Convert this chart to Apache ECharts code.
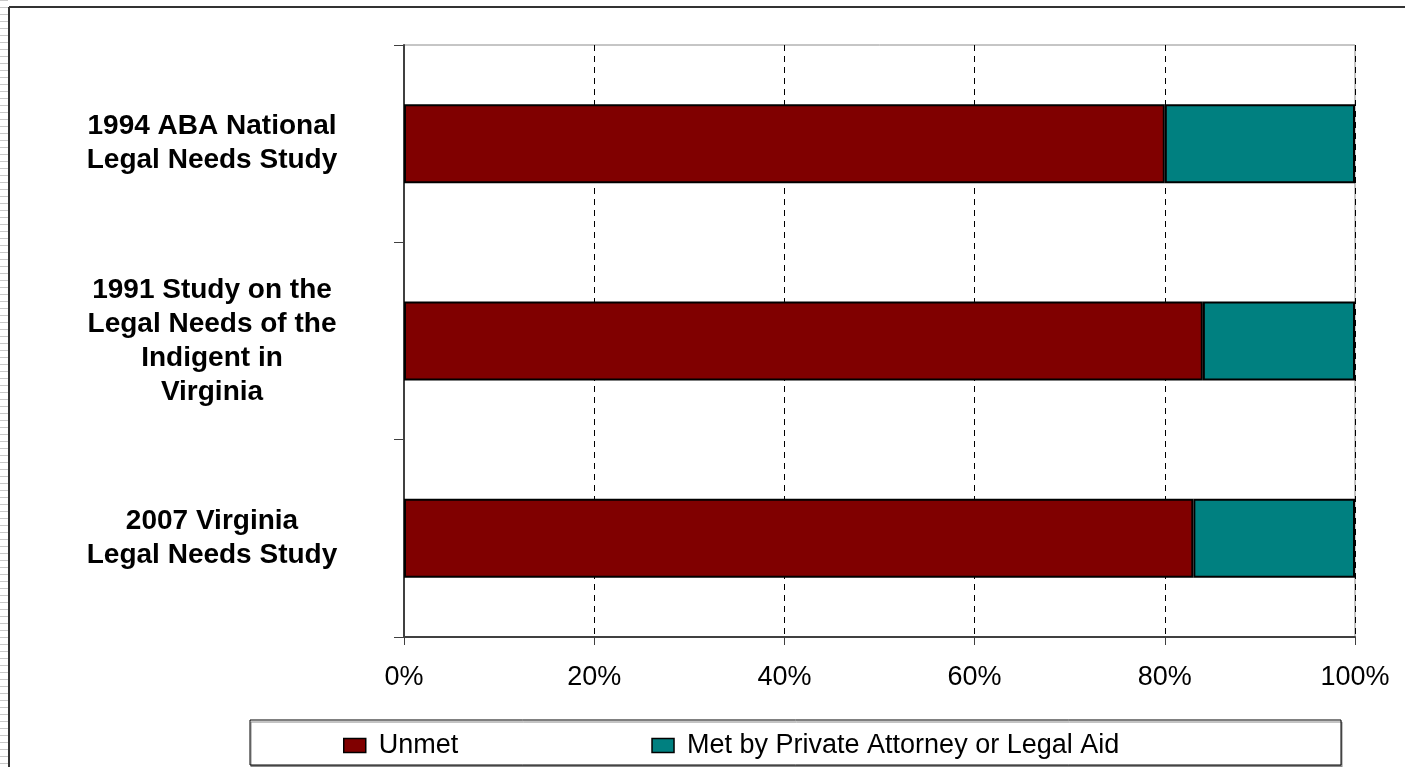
<!DOCTYPE html>
<html>
<head>
<meta charset="utf-8">
<script src="https://cdn.jsdelivr.net/npm/echarts@6/dist/echarts.min.js"></script>
<style>
html,body{margin:0;padding:0;background:#fff;}
#wrap{position:relative;width:1405px;height:767px;}
#hatch{position:absolute;left:0;top:0;width:8px;height:767px;
background:repeating-linear-gradient(to bottom,#c8c8c8 0px,#c8c8c8 1px,#ffffff 1px,#ffffff 7px);}
#chart{position:absolute;left:0;top:0;width:1405px;height:767px;}
</style>
</head>
<body>
<div id="wrap"><div id="hatch"></div><div id="chart"></div></div>
<script>
const categories = [
  "1994 ABA National\nLegal Needs Study",
  "1991 Study on the\nLegal Needs of the\nIndigent in\nVirginia",
  "2007 Virginia\nLegal Needs Study"
];
const seriesNames = ["Unmet", "Met by Private Attorney or Legal Aid"];
const unmet = [80, 84, 83];
const met = [20, 16, 17];
const xTicks = [0, 20, 40, 60, 80, 100];

const chart = echarts.init(document.getElementById('chart'), null, {renderer: 'canvas'});
const FONT = '"Liberation Sans", Arial, sans-serif';

chart.setOption({
  animation: false,
  backgroundColor: 'transparent',
  grid: {
    left: 404, right: 50, top: 45, bottom: 130,
    show: true, borderColor: '#8c8c8c', borderWidth: 1, backgroundColor: 'transparent'
  },
  xAxis: {
    type: 'value',
    min: xTicks[0], max: xTicks[xTicks.length - 1], interval: 20,
    axisLine: {show: true, lineStyle: {color: '#404040', width: 2}},
    axisTick: {show: true, length: 8, lineStyle: {color: '#404040', width: 1}},
    splitLine: {show: true, lineStyle: {color: '#000', width: 1, type: [6, 5]}},
    axisLabel: {
      formatter: '{value}%', fontFamily: FONT, fontSize: 27, color: '#000', margin: 27
    }
  },
  yAxis: {
    type: 'category',
    inverse: true,
    data: categories,
    axisLine: {show: true, lineStyle: {color: '#404040', width: 2}},
    axisTick: {show: true, length: 10, alignWithLabel: false, lineStyle: {color: '#404040', width: 1}},
    splitLine: {show: false},
    axisLabel: {
      fontFamily: FONT, fontSize: 28, fontWeight: 'bold', color: '#000',
      align: 'center', margin: 192, lineHeight: 34, interval: 0
    }
  },
  legend: {
    left: 338, top: 727,
    itemWidth: 22, itemHeight: 14, itemGap: 193,
    icon: 'rect',
    itemStyle: {borderColor: '#000', borderWidth: 1.5},
    textStyle: {fontFamily: FONT, fontSize: 27, color: '#000', padding: [0, 0, 0, 8]},
    data: seriesNames
  },
  graphic: [
    {type: 'rect', z: -1, silent: true,
     shape: {x: 250, y: 720, width: 1091, height: 45},
     style: {fill: '#fff', stroke: '#000', lineWidth: 1, shadowColor: '#888', shadowOffsetY: 2, shadowOffsetX: 1}},
    {type: 'line', silent: true, shape: {x1: 9, y1: 7, x2: 9, y2: 767}, style: {stroke: '#333', lineWidth: 2}},
    {type: 'line', silent: true, shape: {x1: 9, y1: 7, x2: 1405, y2: 7}, style: {stroke: '#333', lineWidth: 2}}
  ],
  series: [
    {
      name: seriesNames[0], type: 'bar', stack: 'total', barWidth: '40%',
      data: unmet,
      itemStyle: {color: '#800000', borderColor: '#000', borderWidth: 2}
    },
    {
      name: seriesNames[1], type: 'bar', stack: 'total', barWidth: '40%',
      data: met,
      itemStyle: {color: '#008080', borderColor: '#000', borderWidth: 2}
    }
  ]
});
</script>
</body>
</html>
